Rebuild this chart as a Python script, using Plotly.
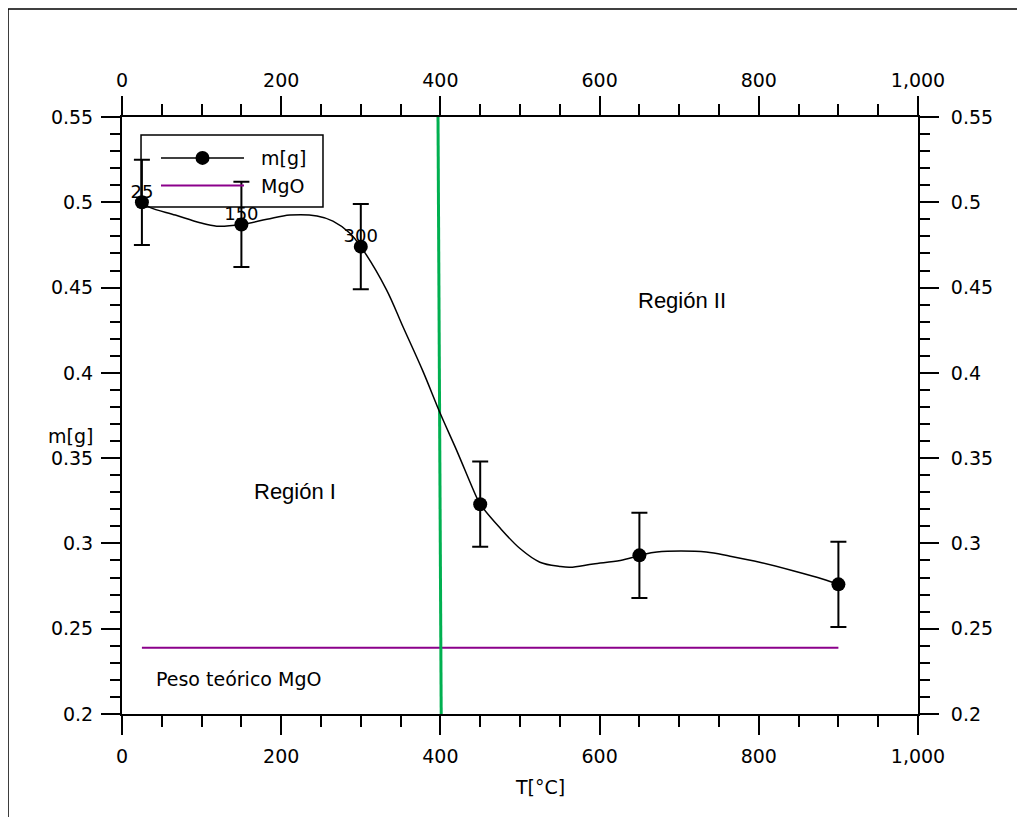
import plotly.graph_objects as go

# ---------------- data ----------------
T = [25, 150, 300, 450, 650, 900]
m = [0.500, 0.487, 0.474, 0.323, 0.293, 0.276]
m_err = [0.025, 0.025, 0.025, 0.025, 0.025, 0.025]
point_labels = ["25", "150", "300", "", "", ""]

curve_T = [25, 35, 67, 98, 119, 150, 182, 211, 245, 265, 286, 300, 332, 353, 378,
           400, 420, 446, 450, 475, 500, 525, 550, 563, 592, 626, 651, 672, 734,
           764, 801, 843, 881, 900]
curve_m = [0.500, 0.497, 0.4925, 0.488, 0.486, 0.487, 0.490, 0.4925, 0.492, 0.489,
           0.482, 0.474, 0.449, 0.427, 0.401, 0.376, 0.355, 0.3265, 0.323, 0.309,
           0.297, 0.289, 0.2865, 0.286, 0.288, 0.290, 0.293, 0.295, 0.295, 0.2925,
           0.289, 0.284, 0.279, 0.276]

mgo_T = [25, 900]
mgo_m = [0.2388, 0.2388]

boundary_T = [397, 401]
boundary_m = [0.55, 0.2]

x_ticks = [0, 200, 400, 600, 800, 1000]
x_tick_labels = ["0", "200", "400", "600", "800", "1,000"]
y_ticks = [0.2, 0.25, 0.3, 0.35, 0.4, 0.45, 0.5, 0.55]
y_tick_labels = ["0.2", "0.25", "0.3", "0.35", "0.4", "0.45", "0.5", "0.55"]

FONT = "DejaVu Sans"
FS = 19
NB = "\u00a0\u00a0"

fig = go.Figure()

# legend entries
fig.add_trace(go.Scatter(x=[None], y=[None], mode="lines+markers", name=NB + "m[g]",
                         line=dict(color="black", width=1.5),
                         marker=dict(color="black", size=14)))
fig.add_trace(go.Scatter(x=mgo_T, y=mgo_m, mode="lines", name=NB + "MgO",
                         line=dict(color="#8B008B", width=2)))
fig.add_trace(go.Scatter(x=boundary_T, y=boundary_m, mode="lines", showlegend=False,
                         line=dict(color="#00B050", width=3)))
fig.add_trace(go.Scatter(x=curve_T, y=curve_m, mode="lines", showlegend=False,
                         line=dict(color="black", width=1.5, shape="spline")))
fig.add_trace(go.Scatter(x=T, y=m, mode="markers", showlegend=False,
                         marker=dict(color="black", size=14),
                         error_y=dict(type="data", array=m_err, color="black",
                                      thickness=2, width=8)))
fig.add_trace(go.Scatter(x=T, y=m, mode="text", text=point_labels,
                         textposition="top center", showlegend=False,
                         textfont=dict(family=FONT, size=18, color="black")))
# secondary axes carrier
fig.add_trace(go.Scatter(x=[None], y=[None], xaxis="x2", yaxis="y2",
                         showlegend=False, hoverinfo="skip"))

axis_common = dict(showline=True, linewidth=2, linecolor="black", ticks="outside",
                   ticklen=19, tickwidth=2, tickcolor="black", showgrid=False,
                   zeroline=False, tickfont=dict(family=FONT, size=FS, color="black"),
                   tickmode="array")

fig.update_layout(
    width=1017, height=809,
    margin=dict(l=114, r=107, t=109, b=103),
    plot_bgcolor="white", paper_bgcolor="white",
    font=dict(family=FONT, size=FS, color="black"),
    xaxis=dict(range=[0, 1000], tickvals=x_ticks, ticktext=x_tick_labels,
               ticklabelstandoff=5,
               minor=dict(tick0=0, dtick=50, ticks="outside", ticklen=11,
                          tickwidth=2, tickcolor="black"),
               **axis_common),
    xaxis2=dict(range=[0, 1000], tickvals=x_ticks, ticktext=x_tick_labels,
                overlaying="x", side="top", anchor="y", ticklabelstandoff=1,
                minor=dict(tick0=0, dtick=50, ticks="outside", ticklen=11,
                           tickwidth=2, tickcolor="black"),
                **axis_common),
    yaxis=dict(range=[0.2, 0.55], tickvals=y_ticks, ticktext=y_tick_labels,
               ticklabelstandoff=4,
               minor=dict(tick0=0.2, dtick=0.01, ticks="outside", ticklen=10,
                          tickwidth=2, tickcolor="black"),
               **axis_common),
    yaxis2=dict(range=[0.2, 0.55], tickvals=y_ticks, ticktext=y_tick_labels,
                overlaying="y", side="right", anchor="x", ticklabelstandoff=8,
                minor=dict(tick0=0.2, dtick=0.01, ticks="outside", ticklen=10,
                           tickwidth=2, tickcolor="black"),
                **axis_common),
    legend=dict(x=0.0427, y=0.9631, xanchor="left", yanchor="top",
                bgcolor="rgba(0,0,0,0)", borderwidth=0,
                font=dict(family=FONT, size=FS, color="black"),
                itemwidth=83, tracegroupgap=0),
    showlegend=True,
)

annotations = [
    dict(text="T[°C]", x=0.525, y=-0.1223, xref="paper", yref="paper",
         showarrow=False, xanchor="center", yanchor="middle",
         font=dict(family=FONT, size=FS)),
    dict(text="m[g]", x=-0.034, y=0.4657, xref="paper", yref="paper",
         showarrow=False, xanchor="right", yanchor="middle",
         font=dict(family=FONT, size=FS)),
    dict(text="m[g]", x=1.1218, y=0.4657, xref="paper", yref="paper",
         showarrow=False, xanchor="left", yanchor="middle",
         font=dict(family=FONT, size=FS)),
    dict(text="Región I", x=217, y=0.3307, xref="x", yref="y", showarrow=False,
         xanchor="center", yanchor="middle",
         font=dict(family="Liberation Sans", size=22, color="black")),
    dict(text="Región II", x=703, y=0.4427, xref="x", yref="y", showarrow=False,
         xanchor="center", yanchor="middle",
         font=dict(family="Liberation Sans", size=22, color="black")),
    dict(text="Peso teórico MgO", x=40, y=0.2205, xref="x", yref="y",
         showarrow=False, xanchor="left", yanchor="middle",
         font=dict(family=FONT, size=FS)),
]
fig.update_layout(annotations=annotations)

# legend frame
fig.add_shape(type="rect", xref="paper", yref="paper", x0=0.0239, x1=0.2525,
              y0=0.8492, y1=0.9698, line=dict(color="black", width=1.5),
              fillcolor="rgba(0,0,0,0)", layer="above")

# outer frame (picture border)
fig.add_shape(type="line", xref="paper", yref="paper", x0=-0.1432, x1=-0.1432,
              y0=-0.3, y1=1.1809, line=dict(color="black", width=1.5))
fig.add_shape(type="line", xref="paper", yref="paper", x0=-0.1432, x1=1.3,
              y0=1.1809, y1=1.1809, line=dict(color="black", width=1.5))

fig.write_html("out.html")
